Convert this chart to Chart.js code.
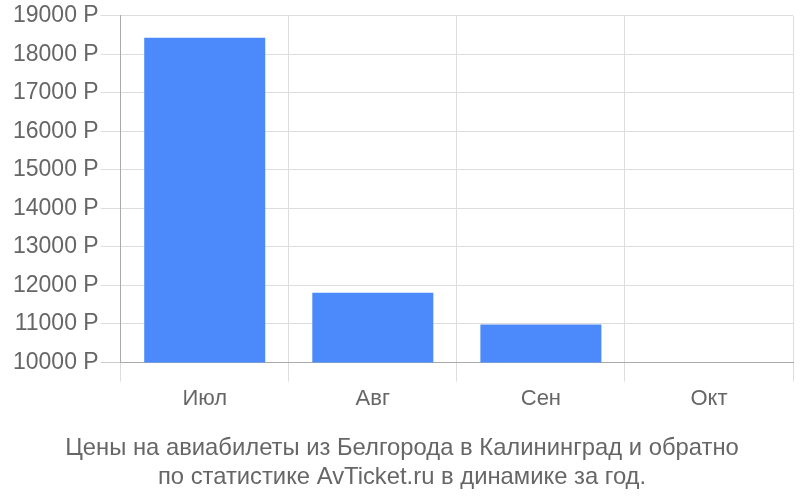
<!DOCTYPE html>
<html>
<head>
<meta charset="utf-8">
<script src="https://cdn.jsdelivr.net/npm/chart.js@4"></script>
<style>
  html, body { margin: 0; padding: 0; background: #fff; }
  #wrap { width: 800px; height: 500px; }
</style>
</head>
<body>
<div id="wrap"><canvas id="priceChart"></canvas></div>
<script>
const months = ['Июл', 'Авг', 'Сен', 'Окт'];
const prices = [18430, 11810, 10985, null];
const yTicks = [10000, 11000, 12000, 13000, 14000, 15000, 16000, 17000, 18000, 19000];
const titleLines = [
    'Цены на авиабилеты из Белгорода в Калининград и обратно',
    'по статистике AvTicket.ru в динамике за год.'
];

const ctx = document.getElementById('priceChart').getContext('2d');
new Chart(ctx, {
    type: 'bar',
    data: {
        labels: months,
        datasets: [{
            data: prices,
            backgroundColor: '#4c89fa',
            borderWidth: 0,
            categoryPercentage: 0.8,
            barPercentage: 0.9
        }]
    },
    options: {
        responsive: true,
        maintainAspectRatio: false,
        animation: false,
        layout: { padding: { left: 11, right: 7, top: 4, bottom: 8 } },
        plugins: {
            legend: { display: false },
            tooltip: { enabled: false },
            title: {
                display: true,
                position: 'bottom',
                text: titleLines,
                color: '#666',
                font: { family: 'Liberation Sans', size: 23.8, weight: 'normal', lineHeight: 1.18 },
                padding: { top: 19, bottom: 1 }
            }
        },
        scales: {
            x: {
                grid: { color: '#dddddd', tickLength: 19, offset: true },
                border: { color: '#aaaaaa' },
                ticks: { color: '#666', padding: 4, font: { family: 'Liberation Sans', size: 22 } }
            },
            y: {
                min: 10000,
                max: 19000,
                afterBuildTicks: axis => { axis.ticks = yTicks.map(v => ({ value: v })); },
                grid: { color: ctx => ctx.tick && ctx.tick.value === 10000 ? '#cccccc' : '#dddddd', tickLength: 20 },
                border: { color: '#aaaaaa' },
                ticks: {
                    color: '#666',
                    padding: 2,
                    font: { family: 'Liberation Sans', size: 23 },
                    callback: v => v + ' Р'
                }
            }
        }
    }
});
</script>
</body>
</html>
